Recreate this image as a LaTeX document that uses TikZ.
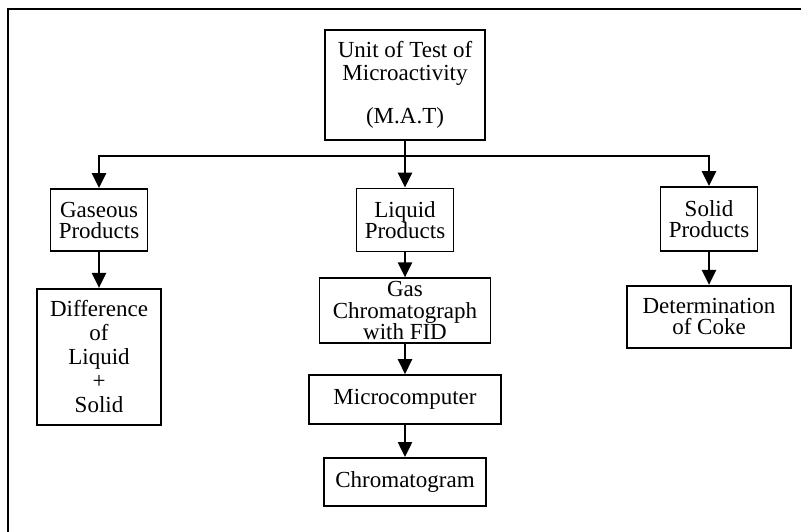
\documentclass[tikz,border=0pt]{standalone}
\usepackage{fontspec}
\setmainfont{Liberation Serif}
\usetikzlibrary{positioning}
\usetikzlibrary{arrows.meta}

\tikzset{
  box/.style={rectangle, draw, line width=1.8pt, align=center, inner sep=0pt, font=\fontsize{23}{21}\selectfont},
  flow/.style={draw, line width=2.5pt, -{Triangle[width=14pt,length=15pt]}},
}

\begin{document}
\begin{tikzpicture}[x=1pt,y=-1pt]
\useasboundingbox (0,0) rectangle (801,532);
\draw[line width=2pt] (8,532) -- (8,9) -- (801,9);

\node[box, minimum width=160pt, minimum height=110pt, font=\fontsize{23}{23}\selectfont] (mat) at (405,85) {Unit of Test of\\Microactivity\\[20pt](M.A.T)};

\node[box, minimum width=97pt, minimum height=62pt] (gas) at (99,220) {Gaseous\\Products};
\node[box, minimum width=97pt, minimum height=63pt] (liq) at (405,220) {Liquid\\Products};
\node[box, minimum width=97pt, minimum height=64pt] (sol) at (709,219) {Solid\\Products};

\node[box, minimum width=124pt, minimum height=136pt, below=36pt of gas, font=\fontsize{23}{24}\selectfont] (diff) {Difference\\of\\Liquid\\+\\Solid};
\node[box, minimum width=171pt, minimum height=65pt, below=25pt of liq, font=\fontsize{23}{21.5}\selectfont] (gc) {Gas\\Chromatograph\\with FID};
\node[box, minimum width=192pt, minimum height=49pt, below=30pt of gc] (micro) {Microcomputer};
\node[box, minimum width=162pt, minimum height=48pt, below=32pt of micro] (chrom) {Chromatogram};
\node[box, minimum width=164pt, minimum height=62pt, below=33pt of sol] (det) {Determination\\of Coke};

\coordinate (bus) at (405,156);
\draw[flow] (bus) -| (gas.north);
\draw[flow] (bus) -| (sol.north);
\path[flow] (mat) edge (liq);
\path[flow] (gas) edge (diff);
\path[flow] (liq) edge (gc);
\path[flow] (gc) edge (micro);
\path[flow] (micro) edge (chrom);
\path[flow] (sol) edge (det);
\end{tikzpicture}
\end{document}
